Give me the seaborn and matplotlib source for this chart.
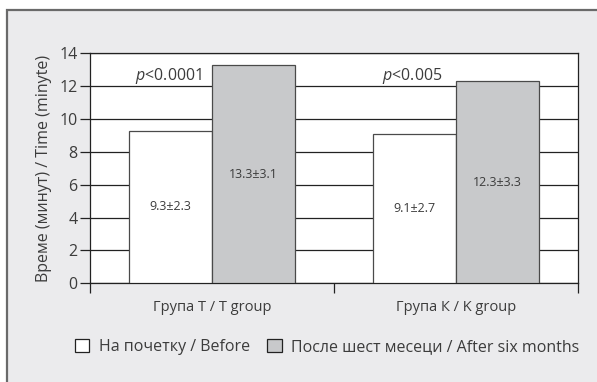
import matplotlib
matplotlib.use("Agg")
import matplotlib.pyplot as plt
from matplotlib.patches import Rectangle, Patch
import seaborn as sns
import pandas as pd

# Values per group
groups = ["Група Т / T group", "Група К / K group"]
periods = ["На почетку / Before", "После шест месеци / After six months"]
before_mean = [9.3, 9.1]
before_sd = [2.3, 2.7]
after_mean = [13.3, 12.3]
after_sd = [3.1, 3.3]
p_values = ["<0.0001", "<0.005"]
y_ticks = [0, 2, 4, 6, 8, 10, 12, 14]

sns.set_theme(style="white")
plt.rcParams["font.family"] = ["Open Sans", "DejaVu Sans"]
plt.rcParams["mathtext.fontset"] = "custom"
plt.rcParams["mathtext.it"] = "Open Sans:italic"
plt.rcParams["mathtext.rm"] = "Open Sans"

TEXT = "#3c3c3c"
EDGE = "#4a4a4a"
GREY = "#c8c9cb"
PANEL = "#ebebed"

df = pd.DataFrame({
    "group": groups * 2,
    "period": [periods[0]] * 2 + [periods[1]] * 2,
    "mean": before_mean + after_mean,
    "sd": before_sd + after_sd,
})

fig = plt.figure(figsize=(5.97, 3.82), dpi=100)
fig.patch.set_facecolor("white")
fig.patches.append(Rectangle((7 / 597, -0.1), 1.2, 0.1 + (382 - 10) / 382,
                             transform=fig.transFigure, facecolor=PANEL,
                             edgecolor="#6a6a6a", linewidth=1.6, zorder=-5))

ax = fig.add_axes([90 / 597, (382 - 283.3) / 382, (578 - 90) / 597, 230 / 382])
ax.set_facecolor("white")

sns.barplot(data=df, x="group", y="mean", hue="period", order=groups,
            hue_order=periods, palette=["white", GREY], width=0.68,
            edgecolor=EDGE, linewidth=0.9, ax=ax, legend=False, zorder=3)

ax.set_ylim(0, 14)
ax.set_xlim(-0.5, 1.5)
ax.set_yticks(y_ticks)
ax.yaxis.grid(True, color="#222222", linewidth=0.9, zorder=0)
ax.set_axisbelow(True)
for s in ax.spines.values():
    s.set_color("#222222")
    s.set_linewidth(0.9)
    s.set_visible(True)

ax.tick_params(axis="y", which="major", length=7, width=0.9, color="#222222",
               left=True, labelsize=11.5, labelcolor=TEXT, pad=2)
ax.tick_params(axis="x", which="major", length=0, labelsize=10.5, labelcolor=TEXT, pad=12)
ax.set_xticks([-0.5, 0.5, 1.5], minor=True)
ax.tick_params(axis="x", which="minor", length=7, width=0.9, color="#222222", bottom=True)

ax.set_xlabel("")
ax.set_ylabel("Време (минут) / Time (minуte)", fontsize=11.5, color=TEXT, labelpad=5)

# Mean ± SD labels inside bars, p-values above each group
for i, container in enumerate(ax.containers):
    means = before_mean if i == 0 else after_mean
    sds = before_sd if i == 0 else after_sd
    for bar, m, sd in zip(container.patches, means, sds):
        ax.text(bar.get_x() + bar.get_width() / 2, m / 2, f"{m}±{sd}",
                ha="center", va="center", fontsize=9, color=TEXT, zorder=5)

for bar, p in zip(ax.containers[0].patches, p_values):
    ax.text(bar.get_x() + bar.get_width() / 2 - 0.01, 12.6, r"$\it{p}$" + p,
            ha="center", va="center", fontsize=11.5, color=TEXT, zorder=5)

handles = [Patch(facecolor="white", edgecolor="#222222", linewidth=0.9),
           Patch(facecolor=GREY, edgecolor="#222222", linewidth=0.9)]
fig.legend(handles, periods, loc="center", bbox_to_anchor=(327 / 597, 1 - 347 / 382),
           ncol=2, frameon=False, fontsize=11.5, labelcolor=TEXT,
           handlelength=0.9, handleheight=0.9, handletextpad=0.6, columnspacing=1.1)

fig.savefig("out.png", dpi=100)
